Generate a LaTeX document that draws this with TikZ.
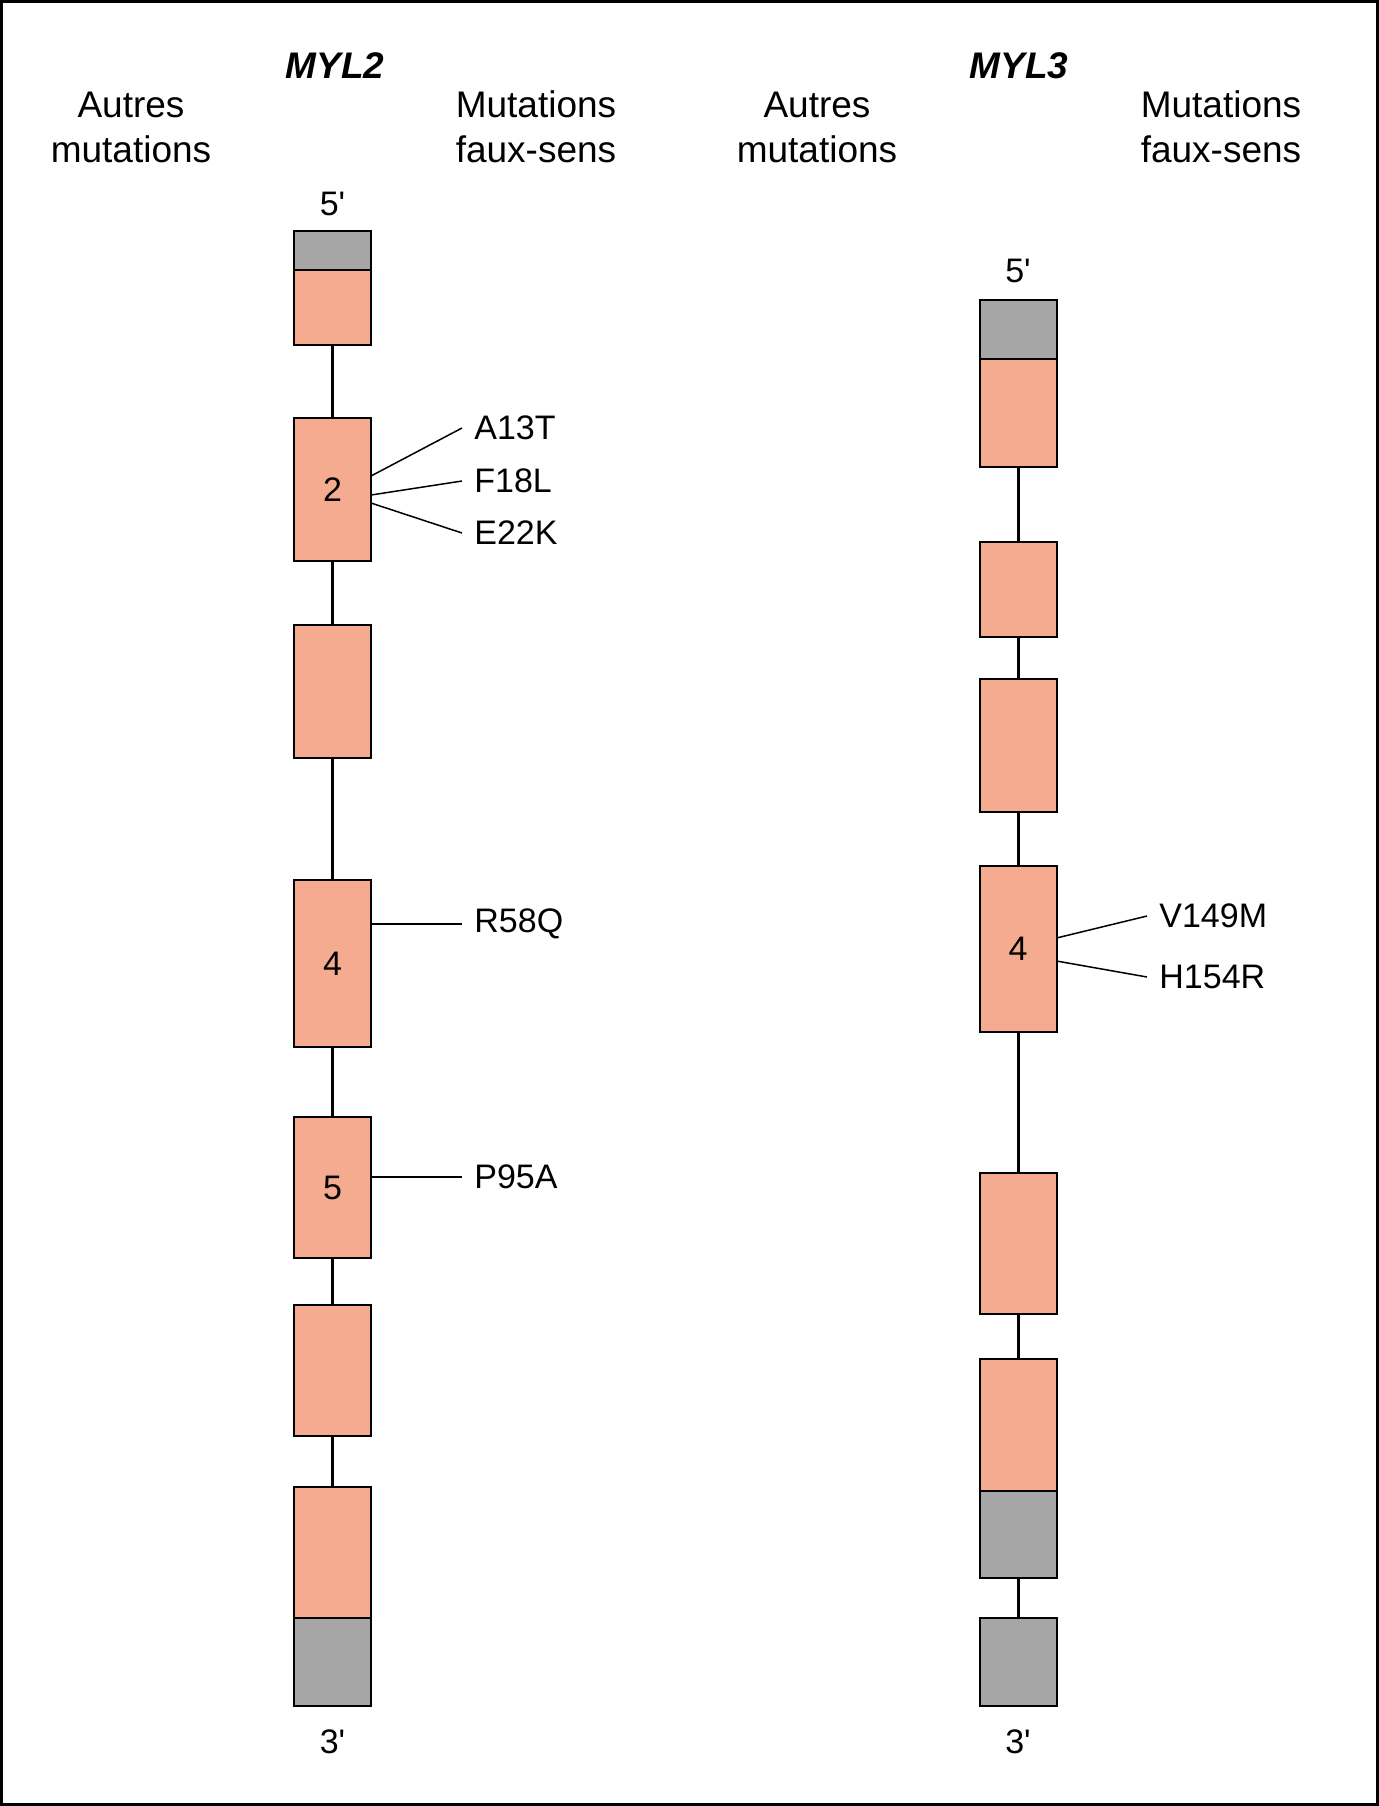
\documentclass[tikz,border=0pt]{standalone}
\usepackage{fontspec}
\setmainfont{Liberation Sans}[Ligatures=TeXOff]
\usetikzlibrary{calc}
\definecolor{salmon}{HTML}{F5AB8F}
\definecolor{utrgray}{HTML}{A6A6A6}
\begin{document}
\begin{tikzpicture}[x=0.5pt,y=-0.5pt,
  exon/.style={draw=black, line width=1pt, fill=salmon, minimum width=38.5pt,
    inner sep=0pt, outer sep=0pt, anchor=north, font=\fontsize{17}{20}\selectfont},
  utr/.style={exon, fill=utrgray},
  intron/.style={line width=1.5pt},
  mut/.style={line width=0.75pt},
  mutlabel/.style={anchor=west, inner sep=6pt, font=\fontsize{17}{20}\selectfont},
  head/.style={align=center, inner sep=0pt, font=\fontsize{18.5}{22.5}\selectfont},
  gene/.style={inner sep=0pt, font=\fontsize{18.5}{22.5}\selectfont\bfseries\itshape},
  endlabel/.style={inner sep=0pt, font=\fontsize{17}{20}\selectfont}]
\useasboundingbox (0,0) rectangle (1379,1806);
\draw[line width=1.5pt] (1.5,1.5) rectangle (1377.5,1804.5);

% headers
\node[gene] (myl2) at (335,66) {MYL2};
\node[gene] (myl3) at (1019,66) {MYL3};
\node[head] (au2) at (131,127) {Autres\\mutations};
\node[head] (fs2) at (536,127) {Mutations\\faux-sens};
\node[head] (au3) at (817,127) {Autres\\mutations};
\node[head] (fs3) at (1221,127) {Mutations\\faux-sens};

% MYL2
\node[endlabel] (p5a) at (332.5,204) {5'};
\node[utr, minimum height=19.5pt] (g2a) at (332.5,231) {};
\node[exon, minimum height=37.5pt] (e2a) at (332.5,270) {};
\node[exon, minimum height=71.5pt] (e2b) at (332.5,418) {2};
\node[exon, minimum height=66.5pt] (e2c) at (332.5,625) {};
\node[exon, minimum height=83.5pt] (e2d) at (332.5,880) {4};
\node[exon, minimum height=70.5pt] (e2e) at (332.5,1117) {5};
\node[exon, minimum height=65.5pt] (e2f) at (332.5,1305) {};
\node[exon, minimum height=65.5pt] (e2g) at (332.5,1487) {};
\node[utr, minimum height=44pt] (g2g) at (332.5,1618) {};
\node[endlabel] (p3a) at (332.5,1742) {3'};

\draw[intron] (e2a.south) -- (e2b.north);
\draw[intron] (e2b.south) -- (e2c.north);
\draw[intron] (e2c.south) -- (e2d.north);
\draw[intron] (e2d.south) -- (e2e.north);
\draw[intron] (e2e.south) -- (e2f.north);
\draw[intron] (e2f.south) -- (e2g.north);

\node[mutlabel] (mA13T) at (462,428) {A13T};
\node[mutlabel] (mF18L) at (462,481) {F18L};
\node[mutlabel] (mE22K) at (462,533) {E22K};
\node[mutlabel] (mR58Q) at (462,924) {R58Q};
\node[mutlabel] (mP95A) at (462,1177) {P95A};
\draw[mut] ($(e2b.north east)+(0,58)$) -- (mA13T.west);
\draw[mut] ($(e2b.north east)+(0,77)$) -- (mF18L.west);
\draw[mut] ($(e2b.north east)+(0,85)$) -- (mE22K.west);
\draw[mut] ($(e2d.north east)+(0,44)$) -- (mR58Q.west);
\draw[mut] ($(e2e.north east)+(0,60)$) -- (mP95A.west);

% MYL3
\node[endlabel] (p5b) at (1018,271) {5'};
\node[utr, minimum height=29.5pt] (g3a) at (1018,300) {};
\node[exon, minimum height=54pt] (e3a) at (1018,359) {};
\node[exon, minimum height=47.5pt] (e3b) at (1018,542) {};
\node[exon, minimum height=66.5pt] (e3c) at (1018,679) {};
\node[exon, minimum height=83pt] (e3d) at (1018,866) {4};
\node[exon, minimum height=70.5pt] (e3e) at (1018,1173) {};
\node[exon, minimum height=66pt] (e3f) at (1018,1359) {};
\node[utr, minimum height=43.5pt] (g3f) at (1018,1491) {};
\node[utr, minimum height=44pt] (g3g) at (1018,1618) {};
\node[endlabel] (p3b) at (1018,1742) {3'};

\draw[intron] (e3a.south) -- (e3b.north);
\draw[intron] (e3b.south) -- (e3c.north);
\draw[intron] (e3c.south) -- (e3d.north);
\draw[intron] (e3d.south) -- (e3e.north);
\draw[intron] (e3e.south) -- (e3f.north);
\draw[intron] (g3f.south) -- (g3g.north);

\node[mutlabel] (mV149M) at (1147,916) {V149M};
\node[mutlabel] (mH154R) at (1147,977) {H154R};
\draw[mut] ($(e3d.north east)+(0,72)$) -- (mV149M.west);
\draw[mut] ($(e3d.north east)+(0,95)$) -- (mH154R.west);
\end{tikzpicture}
\end{document}
